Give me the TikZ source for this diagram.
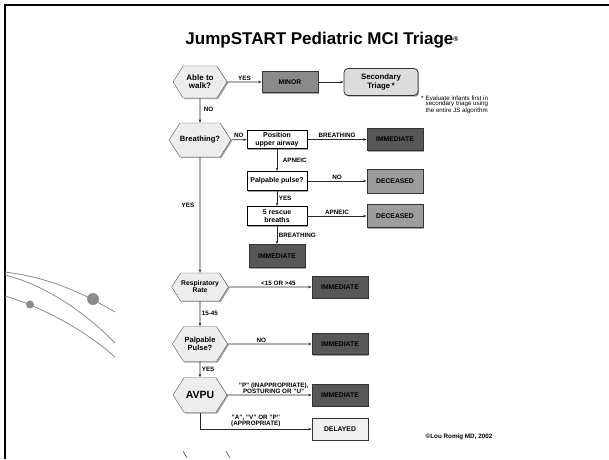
\documentclass[tikz,border=0pt]{standalone}
\usepackage{fontspec}
\setmainfont{Liberation Sans}
\usetikzlibrary{shapes.symbols,arrows.meta,shadows}

\definecolor{hexgray}{HTML}{EDEDED}
\definecolor{minorgray}{HTML}{8A8A8A}
\definecolor{immgray}{HTML}{575757}
\definecolor{decgray}{HTML}{9C9C9C}
\definecolor{secgray}{HTML}{DCDCDC}
\definecolor{delgray}{HTML}{EFEFEF}
\definecolor{swoosh}{HTML}{8C8C8C}

\tikzset{
  boxshadow/.style={drop shadow={shadow xshift=1.2pt,shadow yshift=-1.2pt,fill=black!35,opacity=1}},
  hexbox/.style={signal,signal to=west and east,signal pointer angle=115,
    draw=black!65,fill=hexgray,boxshadow,inner sep=1pt,align=center,
    font=\fontsize{7.5}{7.5}\selectfont\bfseries},
  triagebox/.style={rectangle,draw=black!80,thick,boxshadow,inner sep=1pt,align=center,
    minimum width=56pt,font=\fontsize{6.8}{7}\selectfont\bfseries},
  stepbox/.style={rectangle,draw=black,thick,fill=white,boxshadow,inner sep=1pt,align=center,
    minimum width=60pt,font=\fontsize{7}{7.5}\selectfont\bfseries},
  lbl/.style={font=\fontsize{6.3}{6}\selectfont\bfseries,inner sep=1.5pt,align=center},
}

\begin{document}
\begin{tikzpicture}[x=1pt,y=-1pt]
  \useasboundingbox (0,0) rectangle (609,459);
  % slide frame
  \draw[line width=2pt] (5,459) -- (5,5) -- (609,5);
  % side decoration
  \begin{scope}[draw=swoosh,line width=0.8pt]
    \draw (5,272) .. controls (45,277) and (78,290) .. (115,312);
    \draw (5,275) .. controls (45,285) and (85,312) .. (115,343);
    \draw (5,296) .. controls (40,306) and (85,330) .. (115,357);
    \fill[swoosh] (93,299) circle (6);
    \fill[swoosh] (30,304.5) circle (4);
    \draw[black!70,line width=0.6pt] (183,451) -- (187,458);
    \draw[black!70,line width=0.6pt] (226,451) -- (230,458);
  \end{scope}

  % title
  \node (title) at (322,40) {\fontsize{17}{20}\selectfont\bfseries JumpSTART Pediatric MCI Triage\raisebox{2.5pt}{\fontsize{7}{7}\selectfont\textregistered}};

  % decision hexagons
  \begin{scope}[every node/.style={hexbox}]
    \node[minimum width=54pt,minimum height=32pt,font=\fontsize{8}{8}\selectfont\bfseries] (walk) at (200,82) {Able to\\walk?};
    \node[minimum width=56pt,minimum height=34pt,inner sep=0pt,font=\fontsize{7.6}{8}\selectfont\bfseries] (breath) at (200,140) {Breathing?};
    \node[minimum width=54pt,minimum height=28pt,inner sep=0.5pt,font=\fontsize{6.8}{7}\selectfont\bfseries] (resp) at (200,287) {Respiratory\\Rate};
    \node[minimum width=54pt,minimum height=35pt] (pulseb) at (200,344) {Palpable\\Pulse?};
    \node[minimum width=54pt,minimum height=35pt,font=\fontsize{10.5}{11}\selectfont\bfseries] (avpu) at (200,395) {AVPU};
  \end{scope}

  % interventions
  \begin{scope}[every node/.style={stepbox}]
    \node[minimum height=18pt] (airway) at (277,139.5) {Position\\upper airway};
    \node[minimum height=19pt] (pulsea) at (277,181) {Palpable pulse?};
    \node[minimum height=19pt] (rescue) at (277,216) {5 rescue\\breaths};
  \end{scope}

  % triage categories
  \begin{scope}[every node/.style={triagebox}]
    \node[fill=minorgray,minimum height=21pt] (minor) at (290,82) {MINOR};
    \node[fill=secgray,rounded corners=4pt,minimum width=74pt,minimum height=27pt,
          font=\fontsize{7.8}{8.5}\selectfont\bfseries] (second) at (381,82) {Secondary\\Triage\,*};
    \node[fill=immgray,minimum height=22pt] (imma) at (395,139.5) {IMMEDIATE};
    \node[fill=decgray,minimum height=24pt] (deca) at (395,181) {DECEASED};
    \node[fill=decgray,minimum height=23pt] (decb) at (395,216) {DECEASED};
    \node[fill=immgray,minimum height=23pt] (immb) at (277,256) {IMMEDIATE};
    \node[fill=immgray,minimum height=22pt] (immc) at (340,287) {IMMEDIATE};
    \node[fill=immgray,minimum height=21pt] (immd) at (340,344) {IMMEDIATE};
    \node[fill=immgray,minimum height=22pt] (imme) at (340,395) {IMMEDIATE};
    \node[fill=delgray,minimum height=22pt] (delayed) at (340,429) {DELAYED};
  \end{scope}

  % notes
  \node[font=\fontsize{6.2}{5}\selectfont,align=left,anchor=north west,inner sep=0pt] (note) at (421,96)
    {*\,\,Evaluate infants first in\\\phantom{*}\,\,secondary triage using\\\phantom{*}\,\,the entire JS algorithm};
  \node[font=\fontsize{6.3}{6}\selectfont\bfseries,inner sep=0pt] (credit) at (459,437) {\textcopyright Lou Romig MD, 2002};

  % connectors
  \begin{scope}[every edge/.style={draw=black!85,line width=0.6pt,-{Stealth[length=3.5pt,width=2.5pt]}}]
    \path (walk) edge node[lbl,right,pos=0.45,xshift=2pt] {NO} (breath)
          (walk) edge node[lbl,above] {YES} (minor)
          (minor) edge (second)
          (breath) edge node[lbl,above] {NO} (airway)
          (airway) edge node[lbl,above] {BREATHING} (imma)
          (airway) edge node[lbl,right,xshift=4pt] {APNEIC} (pulsea)
          (pulsea) edge node[lbl,above] {NO} (deca)
          (pulsea) edge node[lbl,right] {YES} (rescue)
          (rescue) edge node[lbl,above] {APNEIC} (decb)
          (rescue) edge node[lbl,right] {BREATHING} (immb)
          (breath) edge node[lbl,left,pos=0.42,xshift=-4pt] {YES} (resp)
          (resp) edge node[lbl,above,pos=0.6] {<15 OR >45} (immc)
          (resp) edge node[lbl,right] {15-45} (pulseb)
          (pulseb) edge node[lbl,above,pos=0.4] {NO} (immd)
          (pulseb) edge node[lbl,right] {YES} (avpu)
          (avpu) edge node[lbl,above,pos=0.55] {"P" (INAPPROPRIATE),\\POSTURING OR "U"} (imme)
          (avpu.south) edge[to path={|- (\tikztotarget) \tikztonodes}]
                node[lbl,above,pos=0.75] {"A", "V" OR "P"\\(APPROPRIATE)} (delayed);
  \end{scope}
\end{tikzpicture}
\end{document}
